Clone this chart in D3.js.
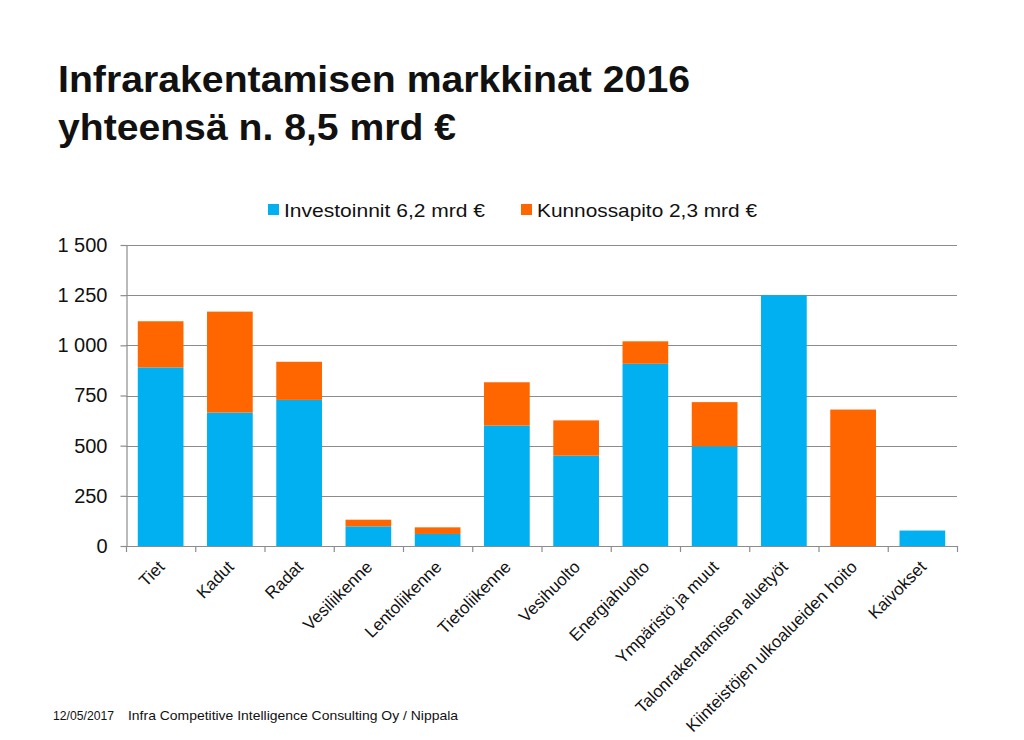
<!DOCTYPE html>
<html>
<head>
<meta charset="utf-8">
<script src="https://cdn.jsdelivr.net/npm/d3@7"></script>
<style>
  html, body { margin: 0; padding: 0; background: #ffffff; }
  svg { display: block; }
  text { font-family: "Liberation Sans", Arial, sans-serif; fill: #111; }
</style>
</head>
<body>
<svg id="chart" width="1024" height="740"></svg>
<script>
// ---- data ----
const categories = ["Tiet", "Kadut", "Radat", "Vesiliikenne", "Lentoliikenne", "Tietoliikenne",
  "Vesihuolto", "Energiahuolto", "Ympäristö ja muut", "Talonrakentamisen aluetyöt",
  "Kiinteistöjen ulkoalueiden hoito", "Kaivokset"];
const investoinnit = [890, 665, 728, 98, 60, 600, 450, 908, 497, 1250, 0, 77];
const kunnossapito = [230, 503, 190, 33, 33, 216, 176, 112, 220, 0, 680, 0];
const seriesNames = ["Investoinnit 6,2 mrd €", "Kunnossapito 2,3 mrd €"];
const yTicks = [0, 250, 500, 750, 1000, 1250, 1500];
const titleLines = ["Infrarakentamisen markkinat 2016", "yhteensä n. 8,5 mrd €"];
const footerDate = "12/05/2017";
const footerSource = "Infra Competitive Intelligence Consulting Oy / Nippala";

// ---- setup ----
const colors = ["#00B0F0", "#FF6600"];
const gridColor = "#8c8c8c";
const svg = d3.select("#chart");
const plot = { left: 126, right: 957, top: 245, bottom: 546 };

const x = d3.scaleBand().domain(categories)
  .range([plot.left, plot.right]).paddingInner(0.34).paddingOuter(0.17);
const y = d3.scaleLinear().domain([0, 1500]).range([plot.bottom, plot.top]);

const locale = d3.formatLocale({ decimal: ",", thousands: "\u00a0", grouping: [3], currency: ["", "€"] });
const fmt = locale.format(",");

// title
svg.selectAll("text.title").data(titleLines).join("text")
  .attr("class", "title")
  .attr("x", 58)
  .attr("y", (d, i) => 92 + i * 48)
  .attr("font-size", 37)
  .attr("font-weight", "bold")
  .attr("textLength", (d, i) => i === 0 ? 632 : 398)
  .attr("lengthAdjust", "spacingAndGlyphs")
  .text(d => d);

// gridlines
svg.append("g").selectAll("line").data(yTicks.filter(d => d > 0)).join("line")
  .attr("x1", plot.left).attr("x2", plot.right)
  .attr("y1", d => Math.round(y(d)) + 0.5).attr("y2", d => Math.round(y(d)) + 0.5)
  .attr("stroke", gridColor).attr("stroke-width", 1.2);

// stacked bars
const rows = categories.map((c, i) => ({ cat: c, inv: investoinnit[i], kun: kunnossapito[i] }));
const stack = d3.stack().keys(["inv", "kun"])(rows);
svg.append("g").selectAll("g").data(stack).join("g")
  .attr("fill", (d, i) => colors[i])
  .selectAll("rect").data(d => d).join("rect")
  .attr("x", d => x(d.data.cat))
  .attr("width", x.bandwidth())
  .attr("y", d => y(d[1]))
  .attr("height", d => Math.max(0, y(d[0]) - y(d[1])));

// y axis
const yAxis = svg.append("g")
  .attr("transform", `translate(${plot.left + 0.5},0)`)
  .call(d3.axisLeft(y).tickValues(yTicks).tickFormat(fmt).tickSizeInner(6).tickSizeOuter(0).tickPadding(13));
yAxis.selectAll("path, line").attr("stroke", gridColor).attr("stroke-width", 1.2);
yAxis.selectAll("text").attr("font-size", 20).attr("fill", "#111")
  .attr("font-family", "'Liberation Sans', Arial, sans-serif");

// x axis
const boundaries = d3.range(categories.length + 1).map(i => plot.left + i * x.step());
const xg = svg.append("g");
xg.append("line").attr("x1", plot.left).attr("x2", plot.right)
  .attr("y1", plot.bottom + 0.5).attr("y2", plot.bottom + 0.5)
  .attr("stroke", gridColor).attr("stroke-width", 1.2);
xg.selectAll("line.tick").data(boundaries).join("line").attr("class", "tick")
  .attr("x1", d => d + 0.5).attr("x2", d => d + 0.5)
  .attr("y1", plot.bottom).attr("y2", plot.bottom + 6)
  .attr("stroke", gridColor).attr("stroke-width", 1.2);
xg.selectAll("text").data(categories).join("text")
  .attr("transform", d => `translate(${x(d) + x.bandwidth() / 2 + 5},${plot.bottom + 22}) rotate(-45)`)
  .attr("text-anchor", "end")
  .attr("font-size", 17)
  .text(d => d);

// legend
const legendItems = [
  { name: seriesNames[0], color: colors[0], sx: 268, tx: 284, len: 201 },
  { name: seriesNames[1], color: colors[1], sx: 521, tx: 537, len: 220 }
];
const lg = svg.append("g");
lg.selectAll("rect").data(legendItems).join("rect")
  .attr("x", d => d.sx).attr("y", 204).attr("width", 11).attr("height", 11)
  .attr("fill", d => d.color);
lg.selectAll("text").data(legendItems).join("text")
  .attr("x", d => d.tx).attr("y", 217)
  .attr("font-size", 19)
  .attr("textLength", d => d.len)
  .attr("lengthAdjust", "spacingAndGlyphs")
  .text(d => d.name);

// footer
svg.append("text").attr("x", 53).attr("y", 720).attr("font-size", 13)
  .attr("textLength", 61).attr("lengthAdjust", "spacingAndGlyphs").text(footerDate);
svg.append("text").attr("x", 128).attr("y", 720).attr("font-size", 13.5)
  .attr("textLength", 330).attr("lengthAdjust", "spacingAndGlyphs").text(footerSource);
</script>
</body>
</html>
